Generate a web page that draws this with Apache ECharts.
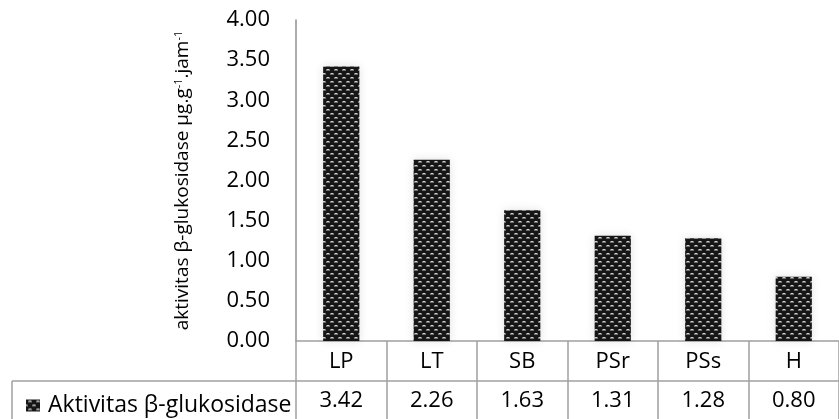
<!DOCTYPE html>
<html><head><meta charset="utf-8">
<script src="https://cdn.jsdelivr.net/npm/echarts@6/dist/echarts.min.js"></script>
<style>html,body{margin:0;padding:0;background:#fff}#c{width:839px;height:419px}</style>
</head><body><div id="c"></div>
<script>
const categories = ['LP', 'LT', 'SB', 'PSr', 'PSs', 'H'];
const values = [3.42, 2.26, 1.63, 1.31, 1.28, 0.80];
const seriesName = 'Aktivitas β-glukosidase';
const yTicks = [0, 0.5, 1, 1.5, 2, 2.5, 3, 3.5, 4];

function makePattern() {
  const c = document.createElement('canvas');
  c.width = 8; c.height = 8;
  const x = c.getContext('2d');
  x.fillStyle = '#161616'; x.fillRect(0, 0, 8, 8);
  x.fillStyle = '#707070';
  x.fillRect(2, 1, 4, 2); x.fillRect(6, 5, 2, 2); x.fillRect(0, 5, 2, 2);
  x.fillStyle = '#cfcfcf';
  x.fillRect(3, 1, 2, 1); x.fillRect(7, 5, 1, 1); x.fillRect(0, 5, 1, 1);
  return c;
}
const pattern = { image: makePattern(), repeat: 'repeat' };
const font = 'Open Sans';
const fs = 22;

const chart = echarts.init(document.getElementById('c'), null, { renderer: 'canvas' });
chart.setOption({
  animation: false,
  textStyle: { fontFamily: font },
  grid: { left: 296, top: 20, width: 552, height: 321, containLabel: false },
  legend: {
    left: 21, top: 389, itemWidth: 14, itemHeight: 12, icon: 'rect',
    textStyle: { fontSize: 23, color: '#000', fontFamily: font, padding: [0, 0, 0, 3] },
    data: [seriesName]
  },
  xAxis: {
    type: 'category', data: categories, boundaryGap: true,
    axisLine: { lineStyle: { color: '#a0a0a0', width: 1.5 } },
    axisTick: { show: true, alignWithLabel: false, length: 79, lineStyle: { color: '#a0a0a0', width: 1.5 } },
    axisLabel: {
      margin: 0, interval: 0,
      formatter: (v, i) => '{c|' + v + '}\n{v|' + values[i].toFixed(2) + '}',
      rich: {
        c: { fontSize: fs, lineHeight: 42, color: '#000', fontFamily: font },
        v: { fontSize: fs, lineHeight: 36, color: '#000', fontFamily: font }
      }
    }
  },
  yAxis: {
    type: 'value', min: yTicks[0], max: yTicks[yTicks.length - 1], interval: 0.5,
    splitLine: { show: false },
    axisTick: { show: false },
    axisLine: { show: true, lineStyle: { color: '#909090', width: 1.5 } },
    axisLabel: { fontSize: fs, color: '#000', margin: 26, formatter: v => v.toFixed(2) },
    name: 'aktivitas β-glukosidase μg.g{s|-1}.jam{s|-1}',
    nameLocation: 'middle', nameGap: 104, nameRotate: 90,
    nameTextStyle: {
      fontSize: 19, color: '#000', fontFamily: font,
      rich: { s: { fontSize: 11, verticalAlign: 'top', padding: [0, 0, 8, 0], color: '#000', fontFamily: font } }
    }
  },
  graphic: [
    { type: 'line', shape: { x1: 12, y1: 381, x2: 839, y2: 381 }, style: { stroke: '#a0a0a0', lineWidth: 1.5 } },
    { type: 'line', shape: { x1: 12, y1: 381, x2: 12, y2: 419 }, style: { stroke: '#a0a0a0', lineWidth: 1.5 } }
  ],
  series: [{
    name: seriesName, type: 'bar', data: values, barWidth: '40%',
    itemStyle: { color: pattern, shadowBlur: 8, shadowColor: 'rgba(0,0,0,0.12)' }
  }]
});
</script></body></html>
